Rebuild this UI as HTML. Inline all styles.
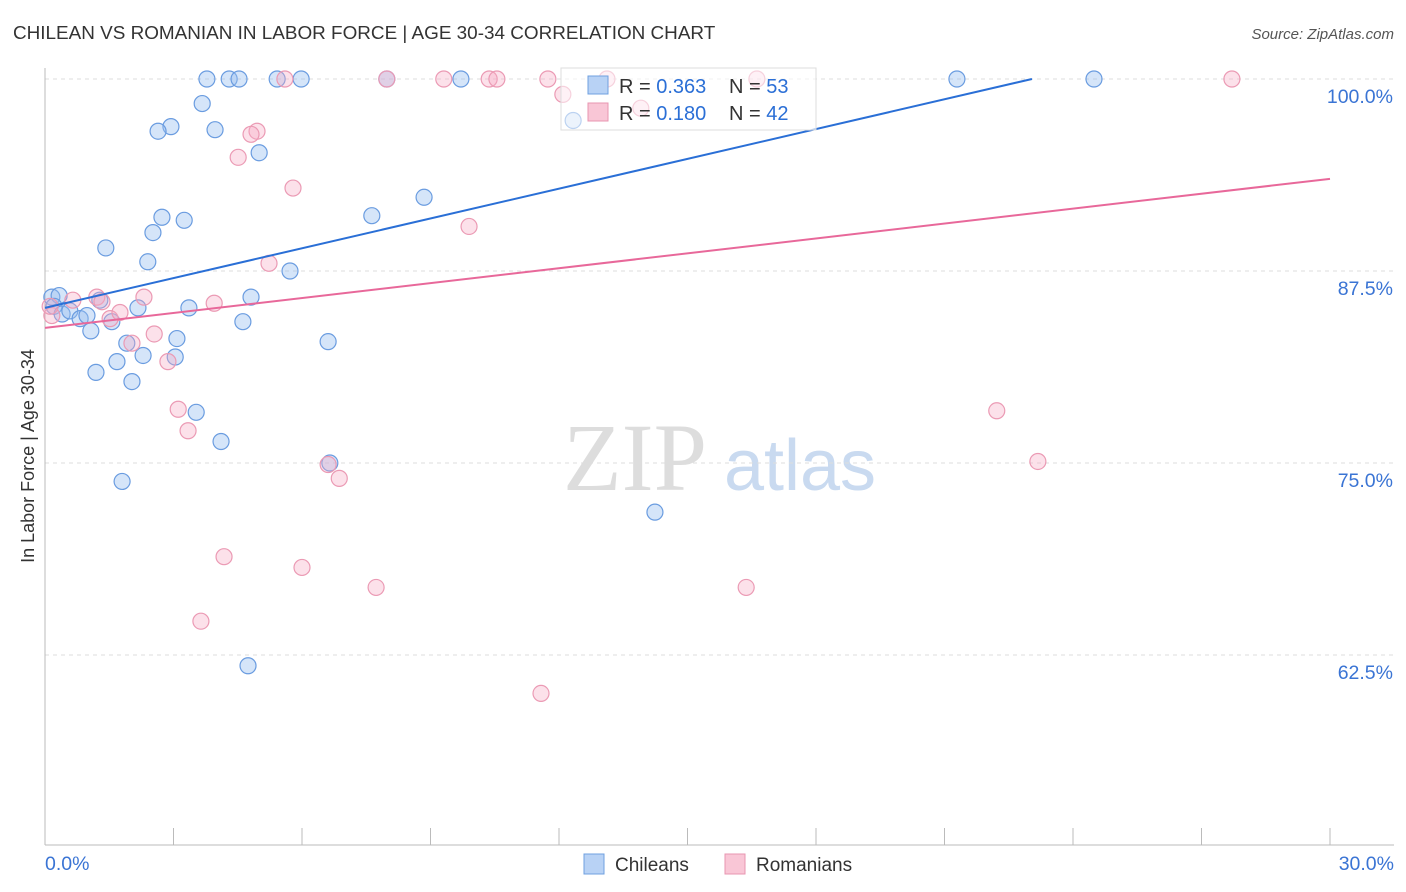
<!DOCTYPE html>
<html><head><meta charset="utf-8">
<style>
body{margin:0;background:#fff;font-family:"Liberation Sans",sans-serif;}
svg{display:block}
</style></head>
<body>
<svg id="chart" width="1406" height="892">
<text x="13" y="39" font-size="18.9" fill="#333">CHILEAN VS ROMANIAN IN LABOR FORCE | AGE 30-34 CORRELATION CHART</text>
<text x="1394" y="39" font-size="15" fill="#555" font-style="italic" text-anchor="end">Source: ZipAtlas.com</text>
<text x="34" y="456" font-size="18" fill="#333" text-anchor="middle" transform="rotate(-90 34 456)">In Labor Force | Age 30-34</text>
<g><text x="635" y="490" font-size="96" fill="#ddd" font-family="Liberation Serif,serif" text-anchor="middle">ZIP</text><text x="800" y="490" font-size="72" fill="#c9daf0" text-anchor="middle">atlas</text></g>
<g id="grid"></g><g id="axes"></g><g id="marks"></g><g id="lines"></g>
<g>
<rect x="561" y="68" width="255" height="62" fill="rgba(255,255,255,0.55)" stroke="#ddd"/>
<rect x="588" y="76" width="20" height="18" fill="#b8d2f5" stroke="#6fa0e0"/>
<text x="619" y="93" font-size="20" fill="#333">R = <tspan fill="#2b6fd6">0.363</tspan></text>
<text x="729" y="93" font-size="20" fill="#333">N = <tspan fill="#2b6fd6">53</tspan></text>
<rect x="588" y="103" width="20" height="18" fill="#f9c6d6" stroke="#e896b0"/>
<text x="619" y="120" font-size="20" fill="#333">R = <tspan fill="#2b6fd6">0.180</tspan></text>
<text x="729" y="120" font-size="20" fill="#333">N = <tspan fill="#2b6fd6">42</tspan></text>
</g>
<g>
<rect x="584" y="854" width="20" height="20" fill="#b8d2f5" stroke="#6fa0e0"/>
<text x="615" y="871" font-size="19" fill="#333">Chileans</text>
<rect x="725" y="854" width="20" height="20" fill="#f9c6d6" stroke="#e896b0"/>
<text x="756" y="871" font-size="19" fill="#333">Romanians</text>
</g>
</svg>
<script>
const yTicks=[100,87.5,75,62.5];
const yTickLabels=["100.0%","87.5%","75.0%","62.5%"];
const xTickLabels=["0.0%","30.0%"];
const chileX=[3.78,4.30,4.53,5.42,5.98,7.98,9.71,21.29,24.49,3.67,2.94,2.64,3.97,5.00,12.33,8.85,7.63,2.73,3.25,2.52,1.42,2.40,5.72,0.16,0.33,0.21,0.40,0.58,0.82,0.98,1.28,1.56,2.17,3.36,4.81,4.62,1.07,3.08,1.91,2.29,3.04,1.68,1.19,2.03,6.61,3.53,4.11,6.65,1.80,14.24,4.74];
const chileY=[100,100,100,100,100,100,100,100,100,98.4,96.9,96.6,96.7,95.2,97.3,92.3,91.1,91.0,90.8,90.0,89.0,88.1,87.5,85.8,85.9,85.2,84.7,84.9,84.4,84.6,85.6,84.2,85.1,85.1,85.8,84.2,83.6,83.1,82.8,82.0,81.9,81.6,80.9,80.3,82.9,78.3,76.4,75.0,73.8,71.8,61.8];
const romX=[5.60,7.98,9.31,10.37,10.55,11.74,13.12,16.62,27.71,12.09,13.91,4.95,4.81,4.51,5.79,9.90,5.23,0.16,0.12,0.65,1.21,1.33,1.52,1.75,2.31,3.95,2.55,2.03,2.87,3.11,3.34,6.61,6.87,4.18,6.00,7.73,3.64,11.58,16.37,22.22,23.18];
const romY=[100,100,100,100,100,100,100,100,100,99.0,98.1,96.6,96.4,94.9,92.9,90.4,88.0,84.6,85.2,85.6,85.8,85.5,84.4,84.8,85.8,85.4,83.4,82.8,81.6,78.5,77.1,74.9,74.0,68.9,68.2,66.9,64.7,60.0,66.9,78.4,75.1];
const chileTrend=[85.1,104.5];
const romTrend=[83.8,93.5];
const X=v=>45+v/30*1285, Y=v=>79+(100-v)/12.5*192;
const NS="http://www.w3.org/2000/svg";
function mk(tag,attrs,parent){const e=document.createElementNS(NS,tag);for(const k in attrs)e.setAttribute(k,attrs[k]);document.getElementById(parent).appendChild(e);return e;}
yTicks.forEach((t,i)=>{
 const l=mk('line',{x1:45,x2:1394,y1:Y(t),y2:Y(t),stroke:'#ddd','stroke-dasharray':'4,4'},'grid');
 
 
 const tx=mk('text',{x:1393,y:Y(t)+24,'font-size':19.5,fill:'#3a74d4','text-anchor':'end'},'grid');tx.textContent=yTickLabels[i];
 
 
});
mk('line',{x1:45,x2:45,y1:68,y2:845,stroke:'#bbb'},'axes');
mk('line',{x1:45,x2:1394,y1:845,y2:845,stroke:'#bbb'},'axes');
for(let i=0;i<=10;i++){const t=mk('line',{x1:X(i*3),x2:X(i*3),y1:828,y2:845,stroke:'#bbb'},'axes');
 
 }
[[0,'start',45],[30,'end',1394]].forEach((d,i)=>{const t=mk('text',{x:d[2],y:870,'font-size':19.5,fill:'#3a74d4','text-anchor':d[1]},'axes');t.textContent=xTickLabels[i];
 
 });
chileX.forEach((x,i)=>{const c=mk('circle',{cx:X(x),cy:Y(chileY[i]),r:8,fill:'rgba(150,190,240,0.4)',stroke:'#6a9ce0','stroke-width':1.2},'marks');
 
 });
romX.forEach((x,i)=>{const c=mk('circle',{cx:X(x),cy:Y(romY[i]),r:8,fill:'rgba(245,170,195,0.35)',stroke:'#eb9ab4','stroke-width':1.2},'marks');
 
 });
const xEnd=(100-chileTrend[0])/(chileTrend[1]-chileTrend[0])*30;
const bl=mk('line',{x1:X(0),y1:Y(chileTrend[0]),x2:X(xEnd),y2:Y(100),stroke:'#2a6fd6','stroke-width':2},'lines');


const pl=mk('line',{x1:X(0),y1:Y(romTrend[0]),x2:X(30),y2:Y(romTrend[1]),stroke:'#e8689a','stroke-width':2},'lines');


</script>
</body></html>
